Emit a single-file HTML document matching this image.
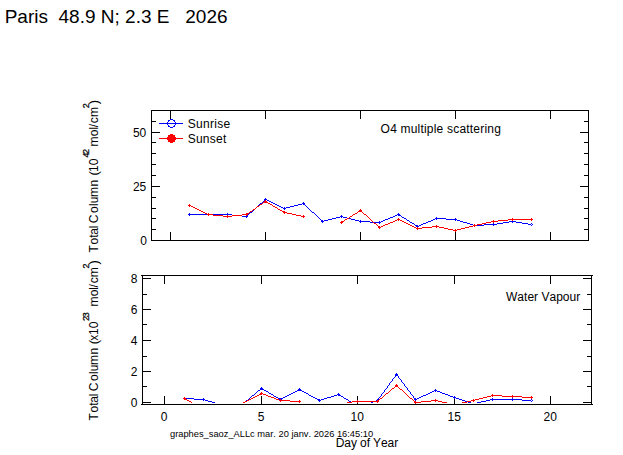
<!DOCTYPE html>
<html><head><meta charset="utf-8"><title>Paris SAOZ</title>
<style>
html,body{margin:0;padding:0;background:#fff;}
body{width:623px;height:455px;overflow:hidden;font-family:"Liberation Sans",sans-serif;}
svg{display:block;}
</style></head>
<body>
<svg width="623" height="455" viewBox="0 0 623 455">
<defs><clipPath id="cb"><rect x="143" y="276" width="448" height="127"/></clipPath></defs>
<rect width="623" height="455" fill="#fff"/>
<g fill="#000" shape-rendering="crispEdges"><rect x="151" y="110" width="438" height="1"/>
<rect x="151" y="240" width="438" height="1"/>
<rect x="151" y="110" width="1" height="131"/>
<rect x="588" y="110" width="1" height="131"/>
<rect x="170" y="110" width="1" height="9"/>
<rect x="170" y="232" width="1" height="9"/>
<rect x="265" y="110" width="1" height="9"/>
<rect x="265" y="232" width="1" height="9"/>
<rect x="360" y="110" width="1" height="9"/>
<rect x="360" y="232" width="1" height="9"/>
<rect x="455" y="110" width="1" height="9"/>
<rect x="455" y="232" width="1" height="9"/>
<rect x="550" y="110" width="1" height="9"/>
<rect x="550" y="232" width="1" height="9"/>
<rect x="151" y="229" width="5" height="1"/>
<rect x="584" y="229" width="5" height="1"/>
<rect x="151" y="218" width="5" height="1"/>
<rect x="584" y="218" width="5" height="1"/>
<rect x="151" y="208" width="5" height="1"/>
<rect x="584" y="208" width="5" height="1"/>
<rect x="151" y="197" width="5" height="1"/>
<rect x="584" y="197" width="5" height="1"/>
<rect x="151" y="186" width="9" height="1"/>
<rect x="580" y="186" width="9" height="1"/>
<rect x="151" y="175" width="5" height="1"/>
<rect x="584" y="175" width="5" height="1"/>
<rect x="151" y="164" width="5" height="1"/>
<rect x="584" y="164" width="5" height="1"/>
<rect x="151" y="153" width="5" height="1"/>
<rect x="584" y="153" width="5" height="1"/>
<rect x="151" y="142" width="5" height="1"/>
<rect x="584" y="142" width="5" height="1"/>
<rect x="151" y="132" width="9" height="1"/>
<rect x="580" y="132" width="9" height="1"/>
<rect x="151" y="121" width="5" height="1"/>
<rect x="584" y="121" width="5" height="1"/>
<rect x="141" y="275" width="452" height="1"/>
<rect x="141" y="404" width="452" height="1"/>
<rect x="142" y="275" width="1" height="130"/>
<rect x="591" y="275" width="1" height="130"/>
<rect x="164" y="275" width="1" height="9"/>
<rect x="164" y="396" width="1" height="9"/>
<rect x="261" y="275" width="1" height="9"/>
<rect x="261" y="396" width="1" height="9"/>
<rect x="357" y="275" width="1" height="9"/>
<rect x="357" y="396" width="1" height="9"/>
<rect x="454" y="275" width="1" height="9"/>
<rect x="454" y="396" width="1" height="9"/>
<rect x="550" y="275" width="1" height="9"/>
<rect x="550" y="396" width="1" height="9"/>
<rect x="142" y="402" width="9" height="1"/>
<rect x="583" y="402" width="9" height="1"/>
<rect x="142" y="386" width="5" height="1"/>
<rect x="587" y="386" width="5" height="1"/>
<rect x="142" y="371" width="9" height="1"/>
<rect x="583" y="371" width="9" height="1"/>
<rect x="142" y="356" width="5" height="1"/>
<rect x="587" y="356" width="5" height="1"/>
<rect x="142" y="340" width="9" height="1"/>
<rect x="583" y="340" width="9" height="1"/>
<rect x="142" y="324" width="5" height="1"/>
<rect x="587" y="324" width="5" height="1"/>
<rect x="142" y="309" width="9" height="1"/>
<rect x="583" y="309" width="9" height="1"/>
<rect x="142" y="294" width="5" height="1"/>
<rect x="587" y="294" width="5" height="1"/>
<rect x="142" y="278" width="9" height="1"/>
<rect x="583" y="278" width="9" height="1"/></g>
<g shape-rendering="crispEdges">
<path fill="#0000ff" d="M265 198h1v1h-1zM264 199h3v1h-3zM264 200h2v1h-2zM267 200h2v1h-2zM263 201h1v1h-1zM269 201h2v1h-2zM262 202h1v1h-1zM271 202h2v1h-2zM303 202h1v1h-1zM260 203h2v1h-2zM273 203h2v1h-2zM302 203h3v1h-3zM259 204h1v1h-1zM275 204h2v1h-2zM298 204h4v1h-4zM303 204h2v1h-2zM258 205h1v1h-1zM277 205h2v1h-2zM294 205h4v1h-4zM305 205h1v1h-1zM257 206h1v1h-1zM279 206h2v1h-2zM290 206h4v1h-4zM306 206h1v1h-1zM256 207h1v1h-1zM281 207h2v1h-2zM284 207h1v1h-1zM286 207h4v1h-4zM307 207h1v1h-1zM255 208h1v1h-1zM283 208h3v1h-3zM308 208h1v1h-1zM254 209h1v1h-1zM284 209h1v1h-1zM309 209h1v1h-1zM253 210h1v1h-1zM310 210h1v1h-1zM252 211h1v1h-1zM311 211h1v1h-1zM250 212h2v1h-2zM312 212h2v1h-2zM189 213h1v1h-1zM208 213h1v1h-1zM227 213h1v1h-1zM249 213h1v1h-1zM314 213h1v1h-1zM398 213h1v1h-1zM188 214h44v1h-44zM248 214h1v1h-1zM315 214h1v1h-1zM397 214h3v1h-3zM189 215h1v1h-1zM208 215h1v1h-1zM227 215h1v1h-1zM232 215h10v1h-10zM246 215h2v1h-2zM316 215h1v1h-1zM341 215h1v1h-1zM395 215h2v1h-2zM398 215h3v1h-3zM242 216h6v1h-6zM317 216h1v1h-1zM340 216h3v1h-3zM393 216h2v1h-2zM401 216h1v1h-1zM246 217h1v1h-1zM318 217h1v1h-1zM336 217h4v1h-4zM341 217h1v1h-1zM343 217h4v1h-4zM390 217h3v1h-3zM402 217h2v1h-2zM436 217h1v1h-1zM319 218h1v1h-1zM332 218h4v1h-4zM347 218h4v1h-4zM388 218h2v1h-2zM404 218h2v1h-2zM435 218h11v1h-11zM455 218h1v1h-1zM320 219h1v1h-1zM328 219h4v1h-4zM351 219h4v1h-4zM385 219h3v1h-3zM406 219h1v1h-1zM433 219h2v1h-2zM436 219h1v1h-1zM446 219h11v1h-11zM321 220h2v1h-2zM324 220h4v1h-4zM355 220h4v1h-4zM360 220h1v1h-1zM383 220h2v1h-2zM407 220h2v1h-2zM431 220h2v1h-2zM455 220h1v1h-1zM457 220h3v1h-3zM512 220h1v1h-1zM321 221h3v1h-3zM359 221h11v1h-11zM379 221h1v1h-1zM381 221h2v1h-2zM409 221h1v1h-1zM428 221h3v1h-3zM460 221h3v1h-3zM509 221h7v1h-7zM322 222h1v1h-1zM360 222h1v1h-1zM370 222h11v1h-11zM410 222h2v1h-2zM426 222h2v1h-2zM463 222h4v1h-4zM503 222h6v1h-6zM512 222h1v1h-1zM516 222h6v1h-6zM379 223h1v1h-1zM412 223h2v1h-2zM423 223h3v1h-3zM467 223h3v1h-3zM493 223h1v1h-1zM497 223h6v1h-6zM522 223h6v1h-6zM531 223h1v1h-1zM414 224h1v1h-1zM421 224h2v1h-2zM470 224h3v1h-3zM474 224h1v1h-1zM484 224h13v1h-13zM528 224h3v1h-3zM532 224h1v1h-1zM415 225h3v1h-3zM419 225h2v1h-2zM473 225h11v1h-11zM493 225h1v1h-1zM531 225h1v1h-1zM416 226h3v1h-3zM474 226h1v1h-1zM417 227h1v1h-1z"/>
<path fill="#ff0000" d="M265 200h1v1h-1zM264 201h3v1h-3zM263 202h5v1h-5zM262 203h1v1h-1zM268 203h2v1h-2zM189 204h1v1h-1zM260 204h2v1h-2zM270 204h2v1h-2zM188 205h3v1h-3zM259 205h1v1h-1zM272 205h1v1h-1zM189 206h1v1h-1zM191 206h2v1h-2zM257 206h2v1h-2zM273 206h2v1h-2zM193 207h2v1h-2zM256 207h1v1h-1zM275 207h2v1h-2zM195 208h2v1h-2zM255 208h1v1h-1zM277 208h1v1h-1zM197 209h2v1h-2zM253 209h2v1h-2zM278 209h2v1h-2zM360 209h1v1h-1zM199 210h2v1h-2zM252 210h1v1h-1zM280 210h2v1h-2zM359 210h3v1h-3zM201 211h2v1h-2zM250 211h2v1h-2zM282 211h3v1h-3zM358 211h4v1h-4zM203 212h2v1h-2zM249 212h1v1h-1zM283 212h4v1h-4zM357 212h1v1h-1zM362 212h1v1h-1zM205 213h2v1h-2zM208 213h1v1h-1zM246 213h3v1h-3zM284 213h1v1h-1zM287 213h5v1h-5zM355 213h2v1h-2zM363 213h1v1h-1zM207 214h6v1h-6zM242 214h6v1h-6zM292 214h4v1h-4zM353 214h2v1h-2zM364 214h2v1h-2zM208 215h1v1h-1zM213 215h10v1h-10zM227 215h1v1h-1zM232 215h10v1h-10zM246 215h1v1h-1zM296 215h5v1h-5zM303 215h1v1h-1zM352 215h1v1h-1zM366 215h1v1h-1zM223 216h9v1h-9zM301 216h4v1h-4zM350 216h2v1h-2zM367 216h1v1h-1zM227 217h1v1h-1zM303 217h1v1h-1zM349 217h1v1h-1zM368 217h1v1h-1zM347 218h2v1h-2zM369 218h1v1h-1zM398 218h1v1h-1zM512 218h1v1h-1zM531 218h1v1h-1zM345 219h2v1h-2zM370 219h1v1h-1zM397 219h3v1h-3zM508 219h25v1h-25zM344 220h1v1h-1zM371 220h1v1h-1zM395 220h2v1h-2zM398 220h1v1h-1zM400 220h2v1h-2zM493 220h1v1h-1zM498 220h10v1h-10zM512 220h1v1h-1zM531 220h1v1h-1zM341 221h3v1h-3zM372 221h1v1h-1zM393 221h2v1h-2zM402 221h2v1h-2zM491 221h7v1h-7zM340 222h3v1h-3zM373 222h1v1h-1zM390 222h3v1h-3zM404 222h2v1h-2zM486 222h5v1h-5zM493 222h1v1h-1zM341 223h1v1h-1zM374 223h2v1h-2zM388 223h2v1h-2zM406 223h2v1h-2zM482 223h4v1h-4zM376 224h1v1h-1zM385 224h3v1h-3zM408 224h2v1h-2zM474 224h1v1h-1zM477 224h5v1h-5zM377 225h1v1h-1zM383 225h2v1h-2zM410 225h2v1h-2zM436 225h1v1h-1zM473 225h4v1h-4zM378 226h2v1h-2zM381 226h2v1h-2zM412 226h2v1h-2zM432 226h7v1h-7zM469 226h4v1h-4zM474 226h1v1h-1zM378 227h3v1h-3zM414 227h2v1h-2zM417 227h1v1h-1zM422 227h10v1h-10zM436 227h1v1h-1zM439 227h5v1h-5zM465 227h4v1h-4zM379 228h1v1h-1zM416 228h6v1h-6zM444 228h4v1h-4zM461 228h4v1h-4zM417 229h1v1h-1zM448 229h5v1h-5zM455 229h1v1h-1zM457 229h4v1h-4zM453 230h4v1h-4zM455 231h1v1h-1z"/>
<path fill="#0000ff" d="M396 373h1v1h-1zM395 374h3v1h-3zM395 375h3v1h-3zM395 376h1v1h-1zM398 376h1v1h-1zM394 377h1v1h-1zM398 377h1v1h-1zM393 378h1v1h-1zM399 378h1v1h-1zM392 379h1v1h-1zM400 379h1v1h-1zM392 380h1v1h-1zM401 380h1v1h-1zM391 381h1v1h-1zM401 381h1v1h-1zM390 382h1v1h-1zM402 382h1v1h-1zM389 383h1v1h-1zM403 383h1v1h-1zM389 384h1v1h-1zM404 384h1v1h-1zM388 385h1v1h-1zM404 385h1v1h-1zM387 386h1v1h-1zM405 386h1v1h-1zM261 387h1v1h-1zM387 387h1v1h-1zM406 387h1v1h-1zM260 388h3v1h-3zM299 388h1v1h-1zM386 388h1v1h-1zM407 388h1v1h-1zM260 389h4v1h-4zM298 389h3v1h-3zM385 389h1v1h-1zM407 389h1v1h-1zM435 389h1v1h-1zM258 390h2v1h-2zM264 390h2v1h-2zM297 390h5v1h-5zM384 390h1v1h-1zM408 390h1v1h-1zM434 390h3v1h-3zM257 391h1v1h-1zM266 391h2v1h-2zM295 391h2v1h-2zM302 391h2v1h-2zM384 391h1v1h-1zM409 391h1v1h-1zM432 391h2v1h-2zM435 391h1v1h-1zM437 391h3v1h-3zM256 392h1v1h-1zM268 392h1v1h-1zM293 392h2v1h-2zM304 392h2v1h-2zM383 392h1v1h-1zM410 392h1v1h-1zM430 392h2v1h-2zM440 392h2v1h-2zM255 393h1v1h-1zM269 393h2v1h-2zM291 393h2v1h-2zM306 393h2v1h-2zM338 393h1v1h-1zM382 393h1v1h-1zM410 393h1v1h-1zM428 393h2v1h-2zM442 393h3v1h-3zM254 394h1v1h-1zM271 394h2v1h-2zM289 394h2v1h-2zM308 394h1v1h-1zM337 394h3v1h-3zM381 394h1v1h-1zM411 394h1v1h-1zM426 394h2v1h-2zM445 394h3v1h-3zM252 395h2v1h-2zM273 395h1v1h-1zM287 395h2v1h-2zM309 395h2v1h-2zM334 395h3v1h-3zM338 395h3v1h-3zM381 395h1v1h-1zM412 395h1v1h-1zM423 395h3v1h-3zM448 395h2v1h-2zM251 396h1v1h-1zM274 396h2v1h-2zM285 396h2v1h-2zM311 396h2v1h-2zM331 396h3v1h-3zM341 396h2v1h-2zM380 396h1v1h-1zM413 396h1v1h-1zM421 396h2v1h-2zM450 396h3v1h-3zM454 396h1v1h-1zM184 397h1v1h-1zM250 397h1v1h-1zM276 397h2v1h-2zM283 397h2v1h-2zM313 397h2v1h-2zM327 397h4v1h-4zM343 397h1v1h-1zM379 397h1v1h-1zM413 397h1v1h-1zM419 397h2v1h-2zM453 397h3v1h-3zM183 398h11v1h-11zM203 398h1v1h-1zM249 398h1v1h-1zM278 398h5v1h-5zM315 398h2v1h-2zM324 398h3v1h-3zM344 398h2v1h-2zM378 398h1v1h-1zM414 398h2v1h-2zM417 398h2v1h-2zM454 398h1v1h-1zM456 398h3v1h-3zM492 398h1v1h-1zM512 398h1v1h-1zM184 399h1v1h-1zM194 399h11v1h-11zM248 399h1v1h-1zM279 399h3v1h-3zM317 399h3v1h-3zM321 399h3v1h-3zM346 399h2v1h-2zM377 399h2v1h-2zM414 399h3v1h-3zM459 399h3v1h-3zM490 399h32v1h-32zM531 399h1v1h-1zM203 400h1v1h-1zM205 400h3v1h-3zM246 400h2v1h-2zM280 400h1v1h-1zM318 400h3v1h-3zM348 400h1v1h-1zM376 400h3v1h-3zM415 400h1v1h-1zM462 400h3v1h-3zM486 400h4v1h-4zM492 400h1v1h-1zM512 400h1v1h-1zM522 400h9v1h-9zM532 400h1v1h-1zM208 401h4v1h-4zM245 401h1v1h-1zM319 401h1v1h-1zM349 401h2v1h-2zM373 401h3v1h-3zM377 401h1v1h-1zM465 401h3v1h-3zM481 401h5v1h-5zM531 401h1v1h-1zM212 402h3v1h-3zM244 402h1v1h-1zM351 402h1v1h-1zM371 402h2v1h-2zM468 402h3v1h-3zM477 402h4v1h-4z"/>
<path fill="#ff0000" d="M396 384h1v1h-1zM395 385h3v1h-3zM395 386h3v1h-3zM394 387h1v1h-1zM398 387h1v1h-1zM392 388h2v1h-2zM399 388h1v1h-1zM391 389h1v1h-1zM400 389h2v1h-2zM390 390h1v1h-1zM402 390h1v1h-1zM389 391h1v1h-1zM403 391h1v1h-1zM261 392h1v1h-1zM388 392h1v1h-1zM404 392h1v1h-1zM260 393h3v1h-3zM386 393h2v1h-2zM405 393h1v1h-1zM259 394h3v1h-3zM263 394h3v1h-3zM385 394h1v1h-1zM406 394h1v1h-1zM492 394h1v1h-1zM257 395h2v1h-2zM266 395h2v1h-2zM384 395h1v1h-1zM407 395h1v1h-1zM491 395h11v1h-11zM512 395h1v1h-1zM255 396h2v1h-2zM268 396h3v1h-3zM383 396h1v1h-1zM408 396h1v1h-1zM487 396h4v1h-4zM492 396h1v1h-1zM502 396h20v1h-20zM531 396h1v1h-1zM184 397h1v1h-1zM253 397h2v1h-2zM271 397h3v1h-3zM382 397h1v1h-1zM409 397h1v1h-1zM483 397h4v1h-4zM512 397h1v1h-1zM522 397h11v1h-11zM183 398h3v1h-3zM251 398h2v1h-2zM274 398h2v1h-2zM380 398h2v1h-2zM410 398h2v1h-2zM479 398h4v1h-4zM531 398h1v1h-1zM184 399h3v1h-3zM249 399h2v1h-2zM276 399h3v1h-3zM280 399h1v1h-1zM379 399h1v1h-1zM412 399h1v1h-1zM435 399h1v1h-1zM473 399h1v1h-1zM475 399h4v1h-4zM187 400h2v1h-2zM247 400h2v1h-2zM279 400h11v1h-11zM299 400h1v1h-1zM357 400h1v1h-1zM377 400h2v1h-2zM413 400h1v1h-1zM431 400h7v1h-7zM471 400h4v1h-4zM189 401h2v1h-2zM245 401h2v1h-2zM280 401h1v1h-1zM290 401h11v1h-11zM352 401h27v1h-27zM414 401h2v1h-2zM421 401h10v1h-10zM435 401h1v1h-1zM438 401h4v1h-4zM467 401h4v1h-4zM473 401h1v1h-1zM191 402h1v1h-1zM243 402h2v1h-2zM299 402h1v1h-1zM347 402h5v1h-5zM357 402h1v1h-1zM377 402h1v1h-1zM414 402h7v1h-7zM442 402h5v1h-5zM462 402h5v1h-5zM415 403h1v1h-1z"/>
</g>
<g shape-rendering="crispEdges">
<rect x="159" y="123" width="24" height="1" fill="#0000ff"/>
<rect x="159" y="138" width="24" height="1" fill="#ff0000"/>
<rect x="170" y="119" width="3" height="1" fill="#0000ff"/>
<rect x="168" y="120" width="2" height="1" fill="#0000ff"/>
<rect x="173" y="120" width="2" height="1" fill="#0000ff"/>
<rect x="168" y="121" width="1" height="1" fill="#0000ff"/>
<rect x="174" y="121" width="1" height="1" fill="#0000ff"/>
<rect x="167" y="122" width="1" height="1" fill="#0000ff"/>
<rect x="175" y="122" width="1" height="1" fill="#0000ff"/>
<rect x="167" y="123" width="1" height="1" fill="#0000ff"/>
<rect x="175" y="123" width="1" height="1" fill="#0000ff"/>
<rect x="167" y="124" width="1" height="1" fill="#0000ff"/>
<rect x="175" y="124" width="1" height="1" fill="#0000ff"/>
<rect x="168" y="125" width="1" height="1" fill="#0000ff"/>
<rect x="174" y="125" width="1" height="1" fill="#0000ff"/>
<rect x="168" y="126" width="2" height="1" fill="#0000ff"/>
<rect x="173" y="126" width="2" height="1" fill="#0000ff"/>
<rect x="170" y="127" width="3" height="1" fill="#0000ff"/>
<rect x="170" y="134" width="3" height="1" fill="#ff0000"/>
<rect x="168" y="135" width="7" height="1" fill="#ff0000"/>
<rect x="168" y="136" width="7" height="1" fill="#ff0000"/>
<rect x="167" y="137" width="9" height="1" fill="#ff0000"/>
<rect x="167" y="138" width="9" height="1" fill="#ff0000"/>
<rect x="167" y="139" width="9" height="1" fill="#ff0000"/>
<rect x="168" y="140" width="7" height="1" fill="#ff0000"/>
<rect x="168" y="141" width="7" height="1" fill="#ff0000"/>
<rect x="170" y="142" width="3" height="1" fill="#ff0000"/>
</g>
<g font-family="'Liberation Sans', sans-serif" fill="#000" style="font-kerning:none"><text x="4.7" y="22.8" font-size="19" xml:space="preserve">Paris  48.9 N; 2.3 E   2026</text>
<text x="187.7" y="127.5" font-size="12" letter-spacing="0.3">Sunrise</text>
<text x="187.7" y="142.5" font-size="12" letter-spacing="0.25">Sunset</text>
<text x="380.6" y="133" font-size="12" letter-spacing="0.2">O4 multiple scattering</text>
<text x="506" y="300.8" font-size="12" letter-spacing="0.02">Water Vapour</text>
<text x="146.3" y="136.8" font-size="12" text-anchor="end">50</text>
<text x="146.3" y="190.8" font-size="12" text-anchor="end">25</text>
<text x="147.0" y="244.8" font-size="12" text-anchor="end">0</text>
<text x="137.4" y="406.8" font-size="12" text-anchor="end">0</text>
<text x="137.4" y="375.8" font-size="12" text-anchor="end">2</text>
<text x="137.4" y="344.8" font-size="12" text-anchor="end">4</text>
<text x="137.4" y="313.8" font-size="12" text-anchor="end">6</text>
<text x="137.4" y="282.8" font-size="12" text-anchor="end">8</text>
<text x="164.2" y="420.8" font-size="12" text-anchor="middle">0</text>
<text x="261.2" y="420.8" font-size="12" text-anchor="middle">5</text>
<text x="357.2" y="420.8" font-size="12" text-anchor="middle">10</text>
<text x="454.2" y="420.8" font-size="12" text-anchor="middle">15</text>
<text x="550.2" y="420.8" font-size="12" text-anchor="middle">20</text>
<text x="170" y="436.8" font-size="9.3" letter-spacing="0">graphes_saoz_ALLc mar. 20 janv. 2026 16:45:10</text>
<text x="335.8" y="446.8" font-size="12" letter-spacing="-0.1">Day of Year</text>
<text transform="translate(98,252.5) rotate(-90)" font-size="12" xml:space="preserve" style="font-kerning:none"><tspan x="0" y="0" font-size="12">T</tspan><tspan x="8.0" y="0" font-size="12">o</tspan><tspan x="14.7" y="0" font-size="12">t</tspan><tspan x="17.7" y="0" font-size="12">a</tspan><tspan x="24.2" y="0" font-size="12">l</tspan><tspan x="29.3" y="0" font-size="12">C</tspan><tspan x="39.5" y="0" font-size="12">o</tspan><tspan x="46.5" y="0" font-size="12">l</tspan><tspan x="49.2" y="0" font-size="12">u</tspan><tspan x="55.4" y="0" font-size="12">m</tspan><tspan x="66.1" y="0" font-size="12">n</tspan><tspan x="76.9" y="0" font-size="13">(</tspan><tspan x="80.5" y="0" font-size="12">1</tspan><tspan x="87.2" y="0" font-size="12">0</tspan><tspan x="94.9" y="-9" font-size="9" stroke="#000" stroke-width="0.25">4</tspan><tspan x="98.4" y="-9" font-size="9" stroke="#000" stroke-width="0.25">2</tspan><tspan x="106.0" y="0" font-size="12">m</tspan><tspan x="116.3" y="0" font-size="12">o</tspan><tspan x="122.9" y="0" font-size="12">l</tspan><tspan x="125.2" y="0" font-size="12">/</tspan><tspan x="129.3" y="0" font-size="12">c</tspan><tspan x="135.4" y="0" font-size="12">m</tspan><tspan x="144.2" y="-9" font-size="9" stroke="#000" stroke-width="0.25">2</tspan><tspan x="148.2" y="0" font-size="13">)</tspan></text>
<text transform="translate(98,420.5) rotate(-90)" font-size="12" xml:space="preserve" style="font-kerning:none"><tspan x="0" y="0" font-size="12">T</tspan><tspan x="8.0" y="0" font-size="12">o</tspan><tspan x="14.7" y="0" font-size="12">t</tspan><tspan x="17.7" y="0" font-size="12">a</tspan><tspan x="24.2" y="0" font-size="12">l</tspan><tspan x="29.3" y="0" font-size="12">C</tspan><tspan x="39.5" y="0" font-size="12">o</tspan><tspan x="46.5" y="0" font-size="12">l</tspan><tspan x="49.2" y="0" font-size="12">u</tspan><tspan x="55.4" y="0" font-size="12">m</tspan><tspan x="66.1" y="0" font-size="12">n</tspan><tspan x="76.2" y="0" font-size="13">(</tspan><tspan x="79.8" y="0" font-size="12">x</tspan><tspan x="85.6" y="0" font-size="12">1</tspan><tspan x="92.3" y="0" font-size="12">0</tspan><tspan x="99.4" y="-9" font-size="9" stroke="#000" stroke-width="0.25">2</tspan><tspan x="103.2" y="-9" font-size="9" stroke="#000" stroke-width="0.25">3</tspan><tspan x="113.9" y="0" font-size="12">m</tspan><tspan x="124.2" y="0" font-size="12">o</tspan><tspan x="130.8" y="0" font-size="12">l</tspan><tspan x="133.1" y="0" font-size="12">/</tspan><tspan x="137.20000000000002" y="0" font-size="12">c</tspan><tspan x="143.3" y="0" font-size="12">m</tspan><tspan x="152.10000000000002" y="-9" font-size="9" stroke="#000" stroke-width="0.25">2</tspan><tspan x="156.10000000000002" y="0" font-size="13">)</tspan></text></g>
</svg>
</body></html>
